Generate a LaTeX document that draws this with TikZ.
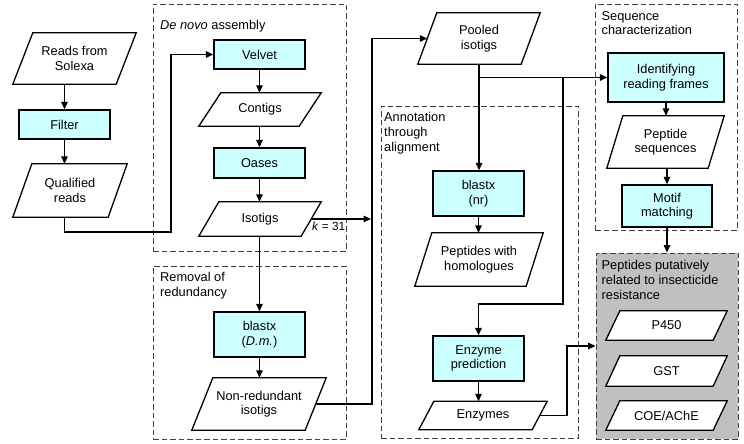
\documentclass[tikz,border=0pt]{standalone}
\usepackage{fontspec}
\setmainfont{Liberation Sans}
\usetikzlibrary{arrows.meta}
\definecolor{boxcyan}{HTML}{CCFFFF}
\definecolor{grpgray}{HTML}{C0C0C0}
\definecolor{dashcol}{HTML}{404040}
\pgfdeclarelayer{grplayer}
\pgfdeclarelayer{shplayer}
\pgfsetlayers{grplayer,shplayer,main}
\newcommand\paradraw[2]{%
  \begin{pgfonlayer}{shplayer}
  \path[datashape] ([xshift=-#2/2]#1.south west) -- ([xshift=-#2/2]#1.south east)
     -- ([xshift=#2/2]#1.north east) -- ([xshift=#2/2]#1.north west) -- cycle;
  \end{pgfonlayer}}
\begin{document}
\begin{tikzpicture}[x=1pt,y=-1pt,
  every node/.style={font=\fontsize{12.8}{14.6}\selectfont, align=center, inner sep=2pt},
  proc/.style 2 args={rectangle, draw=black, line width=1.3pt, fill=boxcyan, minimum width=#1, minimum height=#2},
  data/.style 2 args={rectangle, minimum width=#1, minimum height=#2},
  datashape/.style={draw=black, line width=1.3pt, fill=white, line join=miter},
  grp/.style 2 args={rectangle, draw=dashcol, dash pattern=on 5.5pt off 3pt, line width=0.9pt, minimum width=#1, minimum height=#2, inner sep=0pt},
  grplabel/.style={anchor=north west, align=left, inner sep=0pt, font=\fontsize{12.8}{14.8}\selectfont},
  arr/.style={-{Triangle[length=7.5pt,width=6.5pt]}, line width=1.3pt}
]
\useasboundingbox (0,0) rectangle (744,444);
% groups
\begin{pgfonlayer}{grplayer}
\node[grp={193pt}{247pt}] (denovo) at (249.5,127.5) {};
\node[grp={193pt}{173pt}] (removal) at (249.5,352.5) {};
\node[grp={197pt}{332pt}] (annot) at (479.5,272) {};
\node[grp={142pt}{226pt}] (seqchar) at (666,117) {};
\node[grp={142pt}{186pt}, fill=grpgray] (gray) at (667,346) {};
\end{pgfonlayer}
% group labels
\node[grplabel] (denovolab) at (160,20.5) {\textit{De novo} assembly};
\node[grplabel] (removallab) at (160,272.5) {Removal of\\redundancy};
\node[grplabel] (annotlab) at (384,112) {Annotation\\through\\alignment};
\node[grplabel] (seqcharlab) at (601.5,11) {Sequence\\characterization};
\node[grplabel] (graylab) at (601.5,260.5) {Peptides putatively\\related to insecticide\\resistance};
% column 1
\node[data={103pt}{51pt}] (reads) at (74.5,58.5) {Reads from\\Solexa};
\paradraw{reads}{20}
\node[proc={91pt}{29pt}] (filter) at (64.5,124.5) {Filter};
\node[data={95pt}{53pt}] (qual) at (70,190.5) {Qualified\\reads};
\paradraw{qual}{19}
% column 2
\node[proc={91pt}{29pt}] (velvet) at (259.5,54.5) {Velvet};
\node[data={100pt}{33pt}] (contigs) at (260,109.5) {Contigs};
\paradraw{contigs}{22}
\node[proc={91pt}{30pt}] (oases) at (259.5,163) {Oases};
\node[data={102pt}{34pt}] (isotigs) at (260,219) {Isotigs};
\paradraw{isotigs}{20}
\node[proc={91pt}{45pt}] (blastdm) at (259.5,334.5) {blastx\\(\textit{D.m.})};
\node[data={113pt}{52pt}] (nonred) at (259,404) {Non-redundant\\isotigs};
\paradraw{nonred}{21}
\node[anchor=west, inner sep=0pt, font=\fontsize{11.8}{13}\selectfont] (klab) at (312,226.5) {\textit{k} = 31};
% column 3
\node[data={103pt}{51pt}] (pooled) at (479,38.5) {Pooled\\isotigs};
\paradraw{pooled}{19}
\node[proc={91pt}{45pt}] (blastnr) at (478.5,193.5) {blastx\\(nr)};
\node[data={111pt}{53pt}] (pephom) at (479,259.5) {Peptides with\\homologues};
\paradraw{pephom}{17}
\node[proc={91pt}{45pt}] (enzpred) at (478.5,358.5) {Enzyme\\prediction};
\node[data={113pt}{28pt}] (enzymes) at (483,415.5) {Enzymes};
\paradraw{enzymes}{15}
% column 4
\node[proc={116pt}{49pt}] (ident) at (666,77.5) {Identifying\\reading frames};
\node[data={101pt}{52pt}] (pepseq) at (665.5,142) {Peptide\\sequences};
\paradraw{pepseq}{16}
\node[proc={90pt}{42pt}] (motif) at (667,206) {Motif\\matching};
\node[data={107pt}{29pt}] (p450) at (666.5,325.5) {P450};
\paradraw{p450}{14}
\node[data={107pt}{30pt}] (gst) at (666.5,371) {GST};
\paradraw{gst}{14}
\node[data={107pt}{29pt}] (coe) at (666.5,415.5) {COE/AChE};
\paradraw{coe}{14}
% helper coordinates
\coordinate (c1) at (171,232);
\coordinate (vx) at (372,219);
\coordinate (b2) at (563,77.5);
\coordinate (b3) at (563,304);
\coordinate (c2) at (567,347);
% connectors
\draw[arr] (reads.south -| filter.north) -- (filter.north);
\draw[arr] (filter.south) -- (filter.south |- qual.north);
\draw[arr] (filter.south |- qual.south) |- (c1) |- (velvet.west);
\draw[arr] (velvet.south) -- (velvet.south |- contigs.north);
\draw[arr] (velvet.south |- contigs.south) -- (oases.north);
\draw[arr] (oases.south) -- (oases.south |- isotigs.north);
\draw[arr] (oases.south |- isotigs.south) -- (blastdm.north);
\draw[arr] (blastdm.south) -- (blastdm.south |- nonred.north);
\draw[arr, shorten >=1pt] (isotigs.east) -- (isotigs.east -| vx);
\draw[arr] (nonred.east) -| (vx |- pooled.west) -- (pooled.west);
\draw[arr] (pooled.south) -- (pooled.south |- blastnr.north);
\draw[arr] (pooled.south |- ident.west) -- (ident.west);
\draw[arr] (b2) -- (b3) -| (enzpred.north);
\draw[arr] (blastnr.south) -- (blastnr.south |- pephom.north);
\draw[arr] (enzpred.south) -- (enzpred.south |- enzymes.north);
\draw[arr] (enzymes.east) -| (c2 |- gray.west) -- (gray.west);
\draw[arr] (ident.south) -- (ident.south |- pepseq.north);
\draw[arr] (motif.north |- pepseq.south) -- (motif.north);
\draw[arr] (motif.south) -- (motif.south |- gray.north);
\end{tikzpicture}
\end{document}
